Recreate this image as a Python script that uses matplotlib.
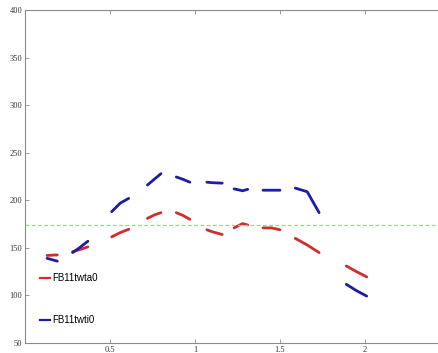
import numpy as np
import matplotlib.pyplot as plt
from matplotlib.lines import Line2D

nan = np.nan

# sample positions, nan rows split the traces into pieces
t = [0.13, 0.19, 0.23, 0.28, 0.32, 0.37, 0.44, 0.51, 0.56, 0.61, 0.66,
     0.72, 0.76, 0.80, 0.85, 0.89, 0.93, 0.97, 1.02, 1.07, 1.10, 1.16,
     1.19, 1.23, 1.28, 1.31, 1.35, 1.40, 1.45, 1.50, 1.55, 1.59, 1.66,
     1.73, 1.81, 1.89, 1.95, 2.01]

twta0 = [142, 142.6, nan, 146, 148, 151, nan, 161.5, 166, 169.5, nan,
         181, 184.5, 187, nan, 187, 184, 180, nan, 169, 167, 164,
         nan, 171, 175.5, 174, nan, 171, 171, 169, nan, 160, 153,
         145, nan, 131, 125, 119.5]

twti0 = [139, 136, nan, 145, 150, 157, nan, 188, 197, 202, nan,
         216, 222, 228, nan, 224.5, 222, 219, nan, 219, 218.5, 218,
         nan, 212, 210, 211.5, nan, 210.6, 210.6, 210.6, nan, 212.8, 209,
         187, nan, 111.7, 105, 99.3]

ref_level = 174

red = '#d12c2c'
blue = '#1c1ca6'

fig = plt.figure(figsize=(4.38, 3.53), dpi=100)
# axes run past the right edge of the figure
ax = fig.add_axes([25/438, 10/353, 440/438, 333/353])

ax.plot(t, twta0, color=red, linewidth=2.0, solid_capstyle='round')
ax.plot(t, twti0, color=blue, linewidth=2.0, solid_capstyle='round')
ax.axhline(ref_level, color='#8fd98f', linewidth=0.9, dashes=(3, 2))

ax.set_xlim(0, 440/170)
ax.set_ylim(50, 400)
ax.set_xticks([0.5, 1, 1.5, 2])
ax.set_xticklabels(['0.5', '1', '1.5', '2'])
ax.set_yticks(np.arange(50, 401, 50))

for s in ax.spines.values():
    s.set_color('#8a8a8a')
    s.set_linewidth(0.8)
ax.spines['right'].set_visible(False)
ax.tick_params(direction='in', length=3, width=0.6, color='#8a8a8a',
               top=True, right=False, labelsize=6, labelcolor='#333333', pad=2)
for lab in ax.get_xticklabels() + ax.get_yticklabels():
    lab.set_family('Liberation Serif')

handles = [Line2D([], [], color=red, linewidth=1.6),
           Line2D([], [], color=blue, linewidth=1.6)]
fig.legend(handles, ['FB11twta0', 'FB11twti0'], loc='upper left',
           bbox_to_anchor=(40/438, (353-273)/353), frameon=False,
           prop={'family': 'Liberation Sans', 'size': 7},
           handlelength=1.0, handletextpad=0.3, labelspacing=3.3,
           borderpad=0, borderaxespad=0)

fig.savefig('out.png', dpi=100)
